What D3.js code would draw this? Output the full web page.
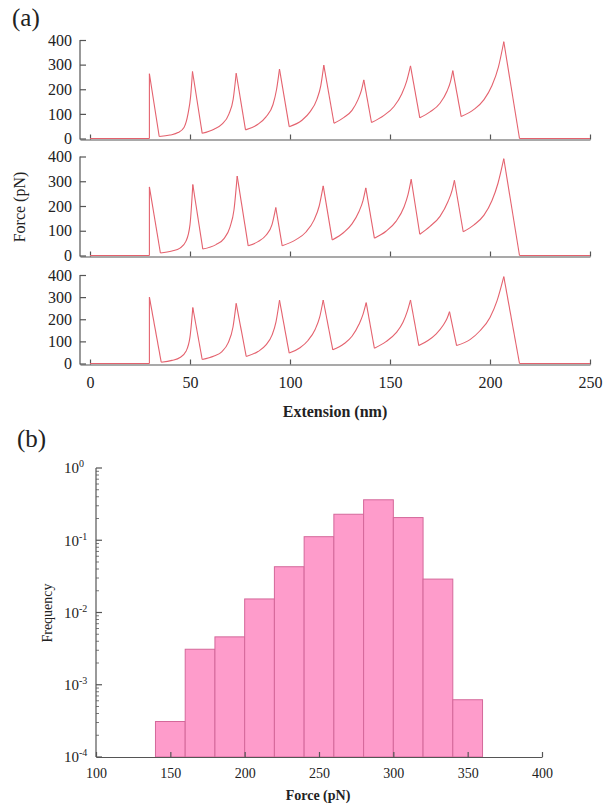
<!DOCTYPE html>
<html><head><meta charset="utf-8">
<script src="https://cdn.jsdelivr.net/npm/d3@7"></script>
<style>body{margin:0;background:#fff}svg{display:block}text{font-family:"Liberation Serif","Times New Roman",serif;fill:#222}</style>
</head><body><svg id="c" width="612" height="809"></svg>
<script>
// ---------- Panel (a) data: [extension (nm), force (pN)] ----------
const extTicks = [0, 50, 100, 150, 200, 250];
const forceTicks = [0, 100, 200, 300, 400];
const trace1 = [[0,0],[29.7,0],[29.7,263],[34.6,8],
 [40,14],[44,24],[47,45],[49,100],[50.3,170],[51.25,272],
 [56.1,21],[62,38],[66,58],[69.5,100],[71.6,160],[73.1,265],
 [77.75,35],[84,58],[88,88],[91.5,138],[93.3,200],[94.75,282],
 [99.6,48],[106,74],[110,108],[113.5,160],[115.4,215],[116.9,298],
 [122,62],[127,86],[131,114],[134,158],[135.7,195],[136.9,238],
 [140.75,65],[147,94],[152,130],[156,183],[158.3,232],[160.25,295],
 [164.9,84],[170,108],[175,143],[178.5,192],[180.2,230],[181.4,276],
 [185.6,89],[192,118],[197,158],[201,215],[204.2,290],[206.9,393],
 [214.75,0],[250,0]];
const trace2 = [[0,0],[29.7,0],[29.7,277],[35.2,10],
 [41,18],[45,30],[48,58],[50,125],[51.4,287],
 [56.4,26],[63,44],[67,68],[70,115],[72,185],[73.6,321],
 [79.1,39],[84,56],[88,82],[91,125],[92.9,194],
 [96.1,39],[103,64],[108,95],[112,143],[114.6,200],[116.6,281],
 [121.1,63],[127,94],[131,128],[134.5,178],[136.5,222],[137.9,273],
 [142.2,70],[148,98],[153,138],[157,196],[159,246],[160.6,308],
 [164.9,86],[170,118],[175,158],[179,218],[181,262],[182.2,304],
 [186.6,96],[192,124],[197,163],[201,222],[204,292],[206.9,391],
 [214.75,0],[250,0]];
const trace3 = [[0,0],[29.7,0],[29.7,300],[35.6,6],
 [41,14],[45,27],[48,55],[50,120],[51.4,253],
 [56.1,18],[62,34],[66,54],[69,92],[71.5,165],[73.1,272],
 [78.1,32],[84,54],[88,84],[91,128],[93,188],[94.75,286],
 [99.6,47],[105,71],[109,104],[112.5,153],[114.8,208],[116.6,287],
 [121.4,62],[127,89],[131,123],[134.5,177],[136.5,222],[138.1,275],
 [142.2,69],[148,99],[153,138],[156.5,186],[158.5,232],[160.25,287],
 [164.4,81],[169,104],[173,133],[176.5,172],[178.5,203],[179.75,234],
 [183.3,81],[190,108],[195,148],[200,208],[203.5,283],[206.9,393],
 [214.75,0],[250,0]];

// ---------- Panel (b) data ----------
const binStarts = [140,160,180,200,220,240,260,280,300,320,340];
const binWidth = 20;
const frequency = [3.1e-4,3.1e-3,4.6e-3,0.0154,0.043,0.112,0.229,0.363,0.206,0.029,6.2e-4];
const histXTicks = [100,150,200,250,300,350,400];
const freqExponents = [0,-1,-2,-3,-4];

const svg = d3.select("#c");
const axisColor = "#555";
const lineColor = "#e4626e";

// ---------- Panel (a) ----------
const x = d3.scaleLinear().domain([-5, 250]).range([80, 590]);
const panels = [
  {trace: trace1, y0: 138.5, y1: 40, labels: false},
  {trace: trace2, y0: 255.5, y1: 156.5, labels: false},
  {trace: trace3, y0: 363.5, y1: 275, labels: true}
];

function segments(pts) {
  const segs = [];
  let i = 0;
  while (i < pts.length - 1) {
    const rising = pts[i+1][1] > pts[i][1] && pts[i+1][0] > pts[i][0];
    if (rising) {
      let j = i;
      while (j < pts.length - 1 && pts[j+1][1] > pts[j][1] && pts[j+1][0] > pts[j][0]) j++;
      segs.push({pts: pts.slice(i, j+1), curve: true});
      i = j;
    } else {
      segs.push({pts: [pts[i], pts[i+1]], curve: false});
      i++;
    }
  }
  return segs;
}

function styleAxis(g, size) {
  g.attr("font-family", null).attr("font-size", size).attr("color", axisColor);
  g.selectAll("text").attr("fill", "#222").style("font-family", '"Liberation Serif", serif');
  g.selectAll("path,line").attr("stroke-width", 1.2);
}

panels.forEach(p => {
  const y = d3.scaleLinear().domain([0, 400]).range([p.y0, p.y1]);
  const xa = svg.append("g").attr("transform", `translate(0,${p.y0 + 1})`)
    .call(d3.axisBottom(x).tickValues(extTicks).tickSize(-5).tickSizeOuter(0)
      .tickPadding(12).tickFormat(p.labels ? d3.format("d") : ""));
  styleAxis(xa, 16);
  const ya = svg.append("g").attr("transform", "translate(80,0)")
    .call(d3.axisLeft(y).tickValues(forceTicks).tickSize(-6).tickSizeOuter(0).tickPadding(8));
  styleAxis(ya, 16);
  ya.select(".domain").attr("d", `M0,${p.y1}V${p.y0 + 1}`);

  const lineLin = d3.line().x(d => x(d[0])).y(d => y(d[1]));
  const lineCurve = d3.line().x(d => x(d[0])).y(d => y(d[1])).curve(d3.curveMonotoneX);
  segments(p.trace).forEach(s => {
    svg.append("path").attr("d", (s.curve ? lineCurve : lineLin)(s.pts))
      .attr("fill", "none").attr("stroke", lineColor).attr("stroke-width", 1.1)
      .attr("stroke-linejoin", "round");
  });
});

svg.append("text").attr("x", 12).attr("y", 26).attr("font-size", 25).text("(a)");
svg.append("text").attr("x", 335).attr("y", 417).attr("text-anchor", "middle")
  .attr("font-size", 16).attr("font-weight", "bold").text("Extension (nm)");
svg.append("text").attr("transform", "translate(19,207) rotate(-90)").attr("dy", "0.35em")
  .attr("text-anchor", "middle").attr("font-size", 16).text("Force (pN)");

// ---------- Panel (b) ----------
const xb = d3.scaleLinear().domain([100, 400]).range([96, 542]);
const yb = d3.scaleLog().domain([1e-4, 1]).range([757, 468]);

svg.append("g").selectAll("rect").data(binStarts).join("rect")
  .attr("x", d => xb(d)).attr("width", d => xb(d + binWidth) - xb(d))
  .attr("y", (d, i) => yb(frequency[i])).attr("height", (d, i) => yb(1e-4) - yb(frequency[i]))
  .attr("fill", "#fe9ccb").attr("stroke", "#d4689a").attr("stroke-width", 1);

const xba = svg.append("g").attr("transform", "translate(0,757)")
  .call(d3.axisBottom(xb).tickValues(histXTicks).tickSize(-5).tickSizeOuter(0).tickPadding(11).tickFormat(d3.format("d")));
styleAxis(xba, 14);

const yAxisG = svg.append("g").attr("color", axisColor);
yAxisG.append("line").attr("x1", 96).attr("x2", 96).attr("y1", 468).attr("y2", 757)
  .attr("stroke", "currentColor").attr("stroke-width", 1.2);
freqExponents.forEach(e => {
  const v = Math.pow(10, e);
  yAxisG.append("line").attr("x1", 96).attr("x2", 102).attr("y1", yb(v)).attr("y2", yb(v))
    .attr("stroke", "currentColor").attr("stroke-width", 1.2);
  if (e > -4) {
    for (let k = 2; k <= 9; k++) {
      const mv = k * Math.pow(10, e - 1);
      yAxisG.append("line").attr("x1", 96).attr("x2", 99).attr("y1", yb(mv)).attr("y2", yb(mv))
        .attr("stroke", "currentColor").attr("stroke-width", 0.8);
    }
  }
  const t = svg.append("text").attr("x", 64).attr("y", yb(v)).attr("dy", "0.35em").attr("font-size", 15);
  t.append("tspan").text("10");
  t.append("tspan").attr("dy", -6).attr("font-size", 10).text(e === 0 ? "0" : "-" + Math.abs(e));
});

svg.append("text").attr("x", 17).attr("y", 447).attr("font-size", 25).text("(b)");
svg.append("text").attr("transform", "translate(47,613) rotate(-90)").attr("dy", "0.35em")
  .attr("text-anchor", "middle").attr("font-size", 14).text("Frequency");
svg.append("text").attr("x", 318).attr("y", 800).attr("text-anchor", "middle")
  .attr("font-size", 14).attr("font-weight", "bold").text("Force (pN)");
</script></body></html>
